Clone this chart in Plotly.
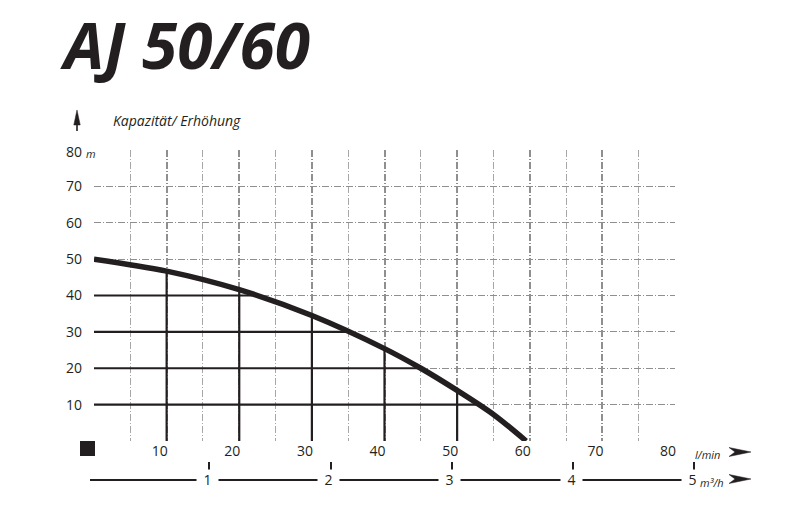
import plotly.graph_objects as go

W, H = 786, 528

# ---- data ----
flow_lmin = [0, 10, 20, 30, 40, 45, 50, 55, 59.5]
head_m = [50, 46.7, 41.6, 34.5, 25.4, 20, 13.9, 7.3, 0]

drop_x = [10, 20, 30, 40, 50]
drop_top = [46.7, 41.6, 34.5, 25.4, 13.9]
level_y = [40, 30, 20, 10]
level_end = [21.8, 35, 45, 52.8]

x_ticks = [10, 20, 30, 40, 50, 60, 70, 80]
y_ticks = [10, 20, 30, 40, 50, 60, 70]
m3h_ticks = [1, 2, 3, 4, 5]

title_text = "AJ 50/60"
y_title = "Kapazität/ Erhöhung"
x_unit = "l/min"
x2_unit = "m³/h"

INK = "#231f20"
GRID = "#8f8f8f"
FONT = "Open Sans"


def px(x):
    return x / W


def py(y):
    return 1 - y / H


def path(points):
    return "M " + " L ".join(f"{px(a):.5f},{py(b):.5f}" for a, b in points) + " Z"


fig = go.Figure()

# black reference lines under the curve
vx, vy = [], []
for x, t in zip(drop_x, drop_top):
    vx += [x, x, None]
    vy += [0, t, None]
for y, e in zip(level_y, level_end):
    vx += [0, e, None]
    vy += [y, y, None]
fig.add_trace(go.Scatter(x=vx, y=vy, mode="lines", line=dict(color=INK, width=2.2),
                         hoverinfo="skip", showlegend=False))

# pump curve
fig.add_trace(go.Scatter(x=flow_lmin, y=head_m, mode="lines",
                         line=dict(color=INK, width=5.5, shape="spline", smoothing=0.9),
                         showlegend=False))

# carrier trace for the m3/h axis
fig.add_trace(go.Scatter(x=[], y=[], xaxis="x2", yaxis="y3", showlegend=False))

dash = "7px,2px,1px,2px"

fig.update_layout(
    width=W, height=H,
    margin=dict(l=0, r=0, t=0, b=0),
    paper_bgcolor="white", plot_bgcolor="white",
    showlegend=False,
    xaxis=dict(
        domain=[px(94), px(675)], range=[0, 80],
        tickmode="array", tickvals=[0] + x_ticks,
        ticktext=[""] + [str(v) for v in x_ticks],
        showgrid=True, gridcolor=GRID, gridwidth=1.6, griddash=dash,
        minor=dict(dtick=5, tick0=0, showgrid=True, gridcolor="#a6a6a6",
                   gridwidth=1, griddash=dash, ticks=""),
        zeroline=False, showline=False, ticks="",
        tickfont=dict(family=FONT, size=14, color=INK),
        ticklabelshift=-7, ticklabelstandoff=0, fixedrange=True,
    ),
    yaxis=dict(
        domain=[py(441), py(150)], range=[0, 80],
        tickmode="array", tickvals=[0] + y_ticks,
        ticktext=[""] + [str(v) for v in y_ticks],
        showgrid=True, gridcolor=GRID, gridwidth=1.2, griddash=dash,
        zeroline=False, showline=False, ticks="",
        tickfont=dict(family=FONT, size=14, color=INK),
        ticklabelstandoff=11, fixedrange=True,
    ),
    xaxis2=dict(
        domain=[px(90), px(698)], range=[(90 - 88) / 121.25, (698 - 88) / 121.25],
        anchor="y3", side="bottom",
        tickmode="array", tickvals=m3h_ticks, showticklabels=False,
        ticks="inside", ticklen=17, tickwidth=2, tickcolor=INK,
        showline=True, linecolor=INK, linewidth=2,
        showgrid=False, zeroline=False, fixedrange=True,
    ),
    yaxis3=dict(domain=[py(479), py(460)], anchor="x2", visible=False, range=[0, 1],
                fixedrange=True),
)

ann = []
# title
ann.append(dict(text=title_text, x=px(58), y=py(45), xref="paper", yref="paper",
                xanchor="left", yanchor="middle", showarrow=False,
                font=dict(family=FONT, size=64, weight=700, style="italic", color=INK)))
# y axis title
ann.append(dict(text=y_title, x=px(111), y=py(120), xref="paper", yref="paper",
                xanchor="left", yanchor="middle", showarrow=False,
                font=dict(family=FONT, size=14, style="italic", color=INK)))
# 80 m label
ann.append(dict(text="80", x=px(84), y=py(152), xref="paper", yref="paper",
                xanchor="right", yanchor="middle", showarrow=False,
                font=dict(family=FONT, size=14, color=INK)))
ann.append(dict(text="m", x=px(84), y=py(153), xref="paper", yref="paper",
                xanchor="left", yanchor="middle", showarrow=False,
                font=dict(family=FONT, size=11, style="italic", color=INK)))
# l/min unit
ann.append(dict(text=x_unit, x=px(693), y=py(454), xref="paper", yref="paper",
                xanchor="left", yanchor="middle", showarrow=False,
                font=dict(family=FONT, size=11, style="italic", color=INK)))
# m3/h labels on the lower axis
for v in m3h_ticks:
    ann.append(dict(text=str(v), x=v, y=py(479), xref="x2", yref="paper",
                    xanchor="center", yanchor="middle", showarrow=False,
                    xshift=-2, width=19, height=16, bgcolor="white",
                    font=dict(family=FONT, size=14, color=INK)))
ann.append(dict(text=x2_unit, x=px(698), y=py(482), xref="paper", yref="paper",
                xanchor="left", yanchor="middle", showarrow=False,
                font=dict(family=FONT, size=11, style="italic", color=INK)))
fig.update_layout(annotations=ann)

# origin block
fig.add_shape(type="rect", xref="paper", yref="paper",
              x0=px(80), x1=px(95), y0=py(456), y1=py(441),
              fillcolor=INK, line=dict(width=0), layer="above")

# arrow darts (decorations)
for yc in (452, 479):
    fig.add_shape(type="path", xref="paper", yref="paper", layer="above",
                  path=path([(751, yc), (729, yc - 4.5), (735, yc), (729, yc + 4.5)]),
                  fillcolor=INK, line=dict(color=INK, width=0.5))
fig.add_shape(type="path", xref="paper", yref="paper", layer="above",
              path=path([(77, 110), (80.2, 125), (73.8, 125)]),
              fillcolor=INK, line=dict(color=INK, width=0.5))
fig.add_shape(type="line", xref="paper", yref="paper", layer="above",
              x0=px(77), x1=px(77), y0=py(124), y1=py(131),
              line=dict(color=INK, width=1.6))

# remove the page's default body margin so the figure fills the window
fig.write_html("out.html", config={"displayModeBar": False},
               post_script="document.body.style.margin='0';")
